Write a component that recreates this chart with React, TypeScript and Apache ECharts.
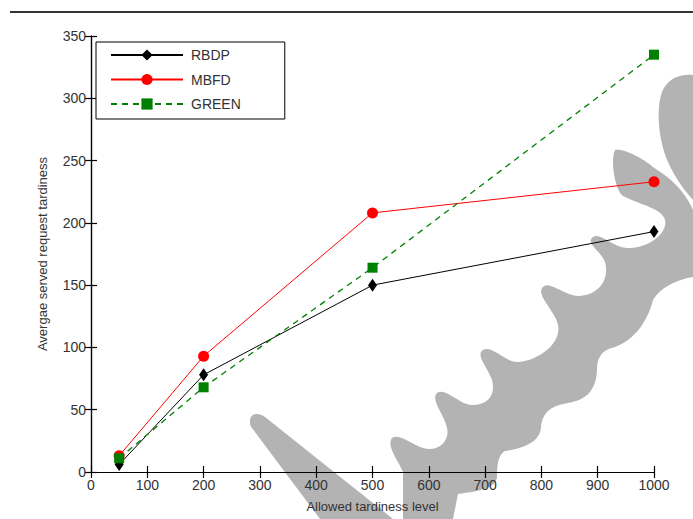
import React, { useEffect, useRef } from "react";
import * as echarts from "echarts";

const levels = [50, 200, 500, 1000];
const rbdp = [6, 78, 150, 193];
const mbfd = [13, 93, 208, 233];
const green = [11, 68, 164, 335];
const xTicks = [0, 100, 200, 300, 400, 500, 600, 700, 800, 900, 1000];
const yTicks = [0, 50, 100, 150, 200, 250, 300, 350];

const bandPath =
  "M615,150 C625,148 645,160 653,167 L666,176 C678,185 688,198 693,210 L693,277 C675,280 660,288 653,300 " +
  "C648,320 635,340 615,347 C600,350 597,360 597,370 C596,392 585,400 568,403 C548,406 542,415 541,428 " +
  "C539,442 525,448 505,451 C498,455 497,465 497,477 C496,488 480,491 458,494 L453,519 L403,519 L403,472 " +
  "C398,460 386,446 392,438 C400,432 415,448 428,449 C440,450 450,440 447,428 C445,415 430,400 437,393 " +
  "C445,387 460,405 472,405 C488,405 496,395 492,380 C488,368 475,355 483,350 C492,345 505,362 517,362 " +
  "C535,362 562,345 558,325 C555,310 535,295 543,287 C550,280 565,297 580,296 C598,295 610,280 605,262 " +
  "C600,250 585,243 593,237 C600,232 612,247 627,248 C645,249 668,235 665,220 C662,208 640,205 623,196 " +
  "C615,190 610,160 615,150 Z";
const wedgePath = "M250,421 C250,413 258,412 265,417 L393,519 L320,519 L252,428 C250,426 250,424 250,421 Z";
const blobPath = "M693,75 C680,74 668,78 662,92 C656,108 658,140 668,162 C676,180 686,192 693,200 Z";

let registered = false;
function registerShapes() {
  if (registered) return;
  registered = true;
  echarts.graphic.registerShape("wmBand", echarts.graphic.extendPath(bandPath, {}) as any);
  echarts.graphic.registerShape("wmWedge", echarts.graphic.extendPath(wedgePath, {}) as any);
  echarts.graphic.registerShape("wmBlob", echarts.graphic.extendPath(blobPath, {}) as any);
}

const FONT = "'Liberation Sans', Arial, Helvetica, sans-serif";
const TXT = "#333";

export default function App() {
  const ref = useRef<HTMLDivElement>(null);
  useEffect(() => {
    if (!ref.current) return;
    registerShapes();
    const chart = echarts.init(ref.current, null, { renderer: "svg" });
    const gray = "#b3b3b3";
    const baseAxis = {
      type: "value" as const,
      min: 0,
      axisLine: { show: true, lineStyle: { color: "#000", width: 1.2 } },
      axisTick: { show: true, inside: true, length: 6, lineStyle: { color: "#000", width: 1.2 } },
      splitLine: { show: false },
    };
    chart.setOption({
      animation: false,
      backgroundColor: "#fff",
      graphic: [
        { type: "wmBand", x: 0, y: 0, z: -5, silent: true, style: { fill: gray } },
        { type: "wmWedge", x: 0, y: 0, z: -5, silent: true, style: { fill: gray } },
        { type: "wmBlob", x: 0, y: 0, z: -5, silent: true, style: { fill: gray } },
        {
          type: "line",
          z: 5,
          shape: { x1: 10, y1: 12, x2: 693, y2: 12 },
          style: { stroke: "#333", lineWidth: 2 },
        },
      ],
      grid: { left: 91, top: 36, width: 563, height: 436, containLabel: false },
      legend: {
        orient: "vertical",
        left: 96,
        top: 42,
        padding: [6, 44, 8, 14],
        itemWidth: 72,
        itemHeight: 14,
        itemGap: 10.5,
        borderColor: "#000",
        borderWidth: 1,
        backgroundColor: "#fff",
        textStyle: { fontFamily: FONT, fontSize: 14, color: TXT, padding: [0, 0, 0, 3], lineHeight: 14 },
        data: ["RBDP", "MBFD", "GREEN"],
      },
      xAxis: [
        {
          ...baseAxis,
          position: "bottom",
          max: xTicks[xTicks.length - 1],
          interval: 100,
          axisLabel: {
            fontFamily: FONT,
            fontSize: 14,
            color: TXT,
            margin: 6,
            formatter: (v: number) => String(v),
          },
          name: "Allowed tardiness level",
          nameLocation: "middle",
          nameGap: 28,
          nameTextStyle: { fontFamily: FONT, fontSize: 13, color: TXT },
        },
        {
          ...baseAxis,
          position: "top",
          max: xTicks[xTicks.length - 1],
          interval: 100,
          axisLabel: { show: false },
        },
      ],
      yAxis: [
        {
          ...baseAxis,
          position: "left",
          max: yTicks[yTicks.length - 1],
          interval: 50,
          axisLabel: {
            fontFamily: FONT,
            fontSize: 14,
            color: TXT,
            margin: 5,
            formatter: (v: number) => String(v),
          },
          name: "Avergae served request tardiness",
          nameLocation: "middle",
          nameGap: 42,
          nameTextStyle: { fontFamily: FONT, fontSize: 13, color: TXT },
        },
        {
          ...baseAxis,
          position: "right",
          max: yTicks[yTicks.length - 1],
          interval: 50,
          axisLabel: { show: false },
        },
      ],
      series: [
        {
          name: "RBDP",
          type: "line",
          data: levels.map((x, i) => [x, rbdp[i]]),
          symbol: "diamond",
          symbolSize: [9, 13],
          itemStyle: { color: "#000" },
          lineStyle: { color: "#000", width: 1 },
          z: 3,
        },
        {
          name: "MBFD",
          type: "line",
          data: levels.map((x, i) => [x, mbfd[i]]),
          symbol: "circle",
          symbolSize: 11,
          itemStyle: { color: "#ff0000" },
          lineStyle: { color: "#ff0000", width: 1 },
          z: 2,
        },
        {
          name: "GREEN",
          type: "line",
          data: levels.map((x, i) => [x, green[i]]),
          symbol: "rect",
          symbolSize: 10,
          itemStyle: { color: "#008000" },
          lineStyle: { color: "#008000", width: 1.3, type: [6, 5] },
          z: 4,
        },
      ],
    });
    return () => chart.dispose();
  }, []);
  return (
    <div
      ref={ref}
      style={{ position: "fixed", left: 0, top: 0, width: 693, height: 519 }}
    />
  );
}
